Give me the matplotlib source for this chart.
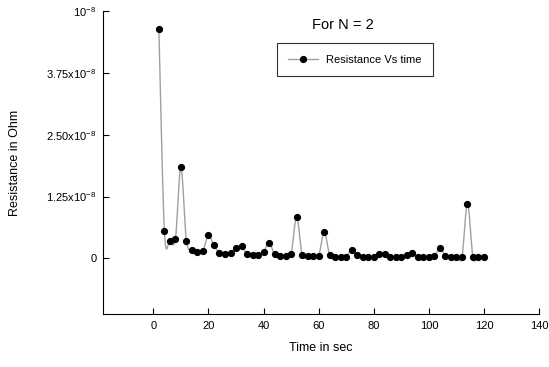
import numpy as np
import matplotlib.pyplot as plt
from matplotlib.path import Path
from matplotlib.patches import PathPatch
from matplotlib.lines import Line2D

plt.rcParams['font.family'] = ['Liberation Sans', 'DejaVu Sans']
plt.rcParams['mathtext.fontset'] = 'custom'
plt.rcParams['mathtext.rm'] = 'Liberation Sans'

# time in seconds
time_s = np.arange(2, 122, 2)
# resistance in units of 1e-8 Ohm
res_e8 = [4.65, 0.56, 0.36, 0.40, 1.84, 0.36, 0.17, 0.13, 0.15, 0.47,
          0.26, 0.11, 0.09, 0.10, 0.21, 0.24, 0.09, 0.07, 0.07, 0.13,
          0.32, 0.08, 0.05, 0.05, 0.09, 0.84, 0.07, 0.04, 0.04, 0.05,
          0.53, 0.07, 0.03, 0.03, 0.03, 0.17, 0.07, 0.03, 0.03, 0.03,
          0.09, 0.09, 0.03, 0.03, 0.03, 0.07, 0.11, 0.03, 0.03, 0.03,
          0.04, 0.21, 0.04, 0.03, 0.03, 0.03, 1.11, 0.03, 0.02, 0.02]
resistance = np.array(res_e8) * 1e-8

y_ticks = [0, 1.25e-8, 2.5e-8, 3.75e-8, 5e-8]
y_labels = ['0', r'$\mathregular{1.25x10^{-8}}$', r'$\mathregular{2.50x10^{-8}}$',
            r'$\mathregular{3.75x10^{-8}}$', r'$\mathregular{10^{-8}}$']
x_ticks = [0, 20, 40, 60, 80, 100, 120, 140]


def smooth_path(x, y):
    # catmull-rom curve through the points, drawn as bezier segments
    pts = np.column_stack([x, y])
    padded = np.vstack([pts[0], pts, pts[-1]])
    verts = [pts[0]]
    codes = [Path.MOVETO]
    for i in range(1, len(padded) - 2):
        p0, p1, p2, p3 = padded[i - 1], padded[i], padded[i + 1], padded[i + 2]
        verts += [p1 + (p2 - p0) / 6, p2 - (p3 - p1) / 6, p2]
        codes += [Path.CURVE4] * 3
    return Path(verts, codes)


fig = plt.figure(figsize=(5.49, 3.67), dpi=100)
ax = fig.add_axes([0.188, 0.144, 0.794, 0.825])

ax.add_patch(PathPatch(smooth_path(time_s, resistance), fill=False,
                       edgecolor='#a0a0a0', lw=1.0))
ax.plot(time_s, resistance, 'o', color='black', markersize=4.2, zorder=3)

ax.set_xlim(-18.2, 140)
ax.set_ylim(-1.13e-8, 5e-8)
ax.set_xticks(x_ticks)
ax.set_yticks(y_ticks)
ax.set_yticklabels(y_labels)
ax.tick_params(direction='in', length=4, width=0.8, labelsize=8, pad=5)
for s in ['top', 'right']:
    ax.spines[s].set_visible(False)

ax.set_xlabel('Time in sec', fontsize=9, labelpad=8)
ax.set_ylabel('Resistance in Ohm', fontsize=9, labelpad=18)
ax.text(0.55, 0.954, 'For N = 2', transform=ax.transAxes, fontsize=10.5,
        ha='center', va='center')

handle = Line2D([], [], color='#a0a0a0', lw=1, marker='o',
                markerfacecolor='black', markeredgecolor='black', markersize=4.2)
leg = ax.legend([handle], ['Resistance Vs time'], loc='upper left',
                bbox_to_anchor=(0.399, 0.894), borderaxespad=0, fontsize=8,
                handlelength=2.7, handletextpad=0.7, fancybox=False,
                shadow=False, borderpad=1.0, frameon=True)
leg.get_frame().set_edgecolor('black')
leg.get_frame().set_linewidth(0.8)

fig.savefig('out.png', dpi=100)
